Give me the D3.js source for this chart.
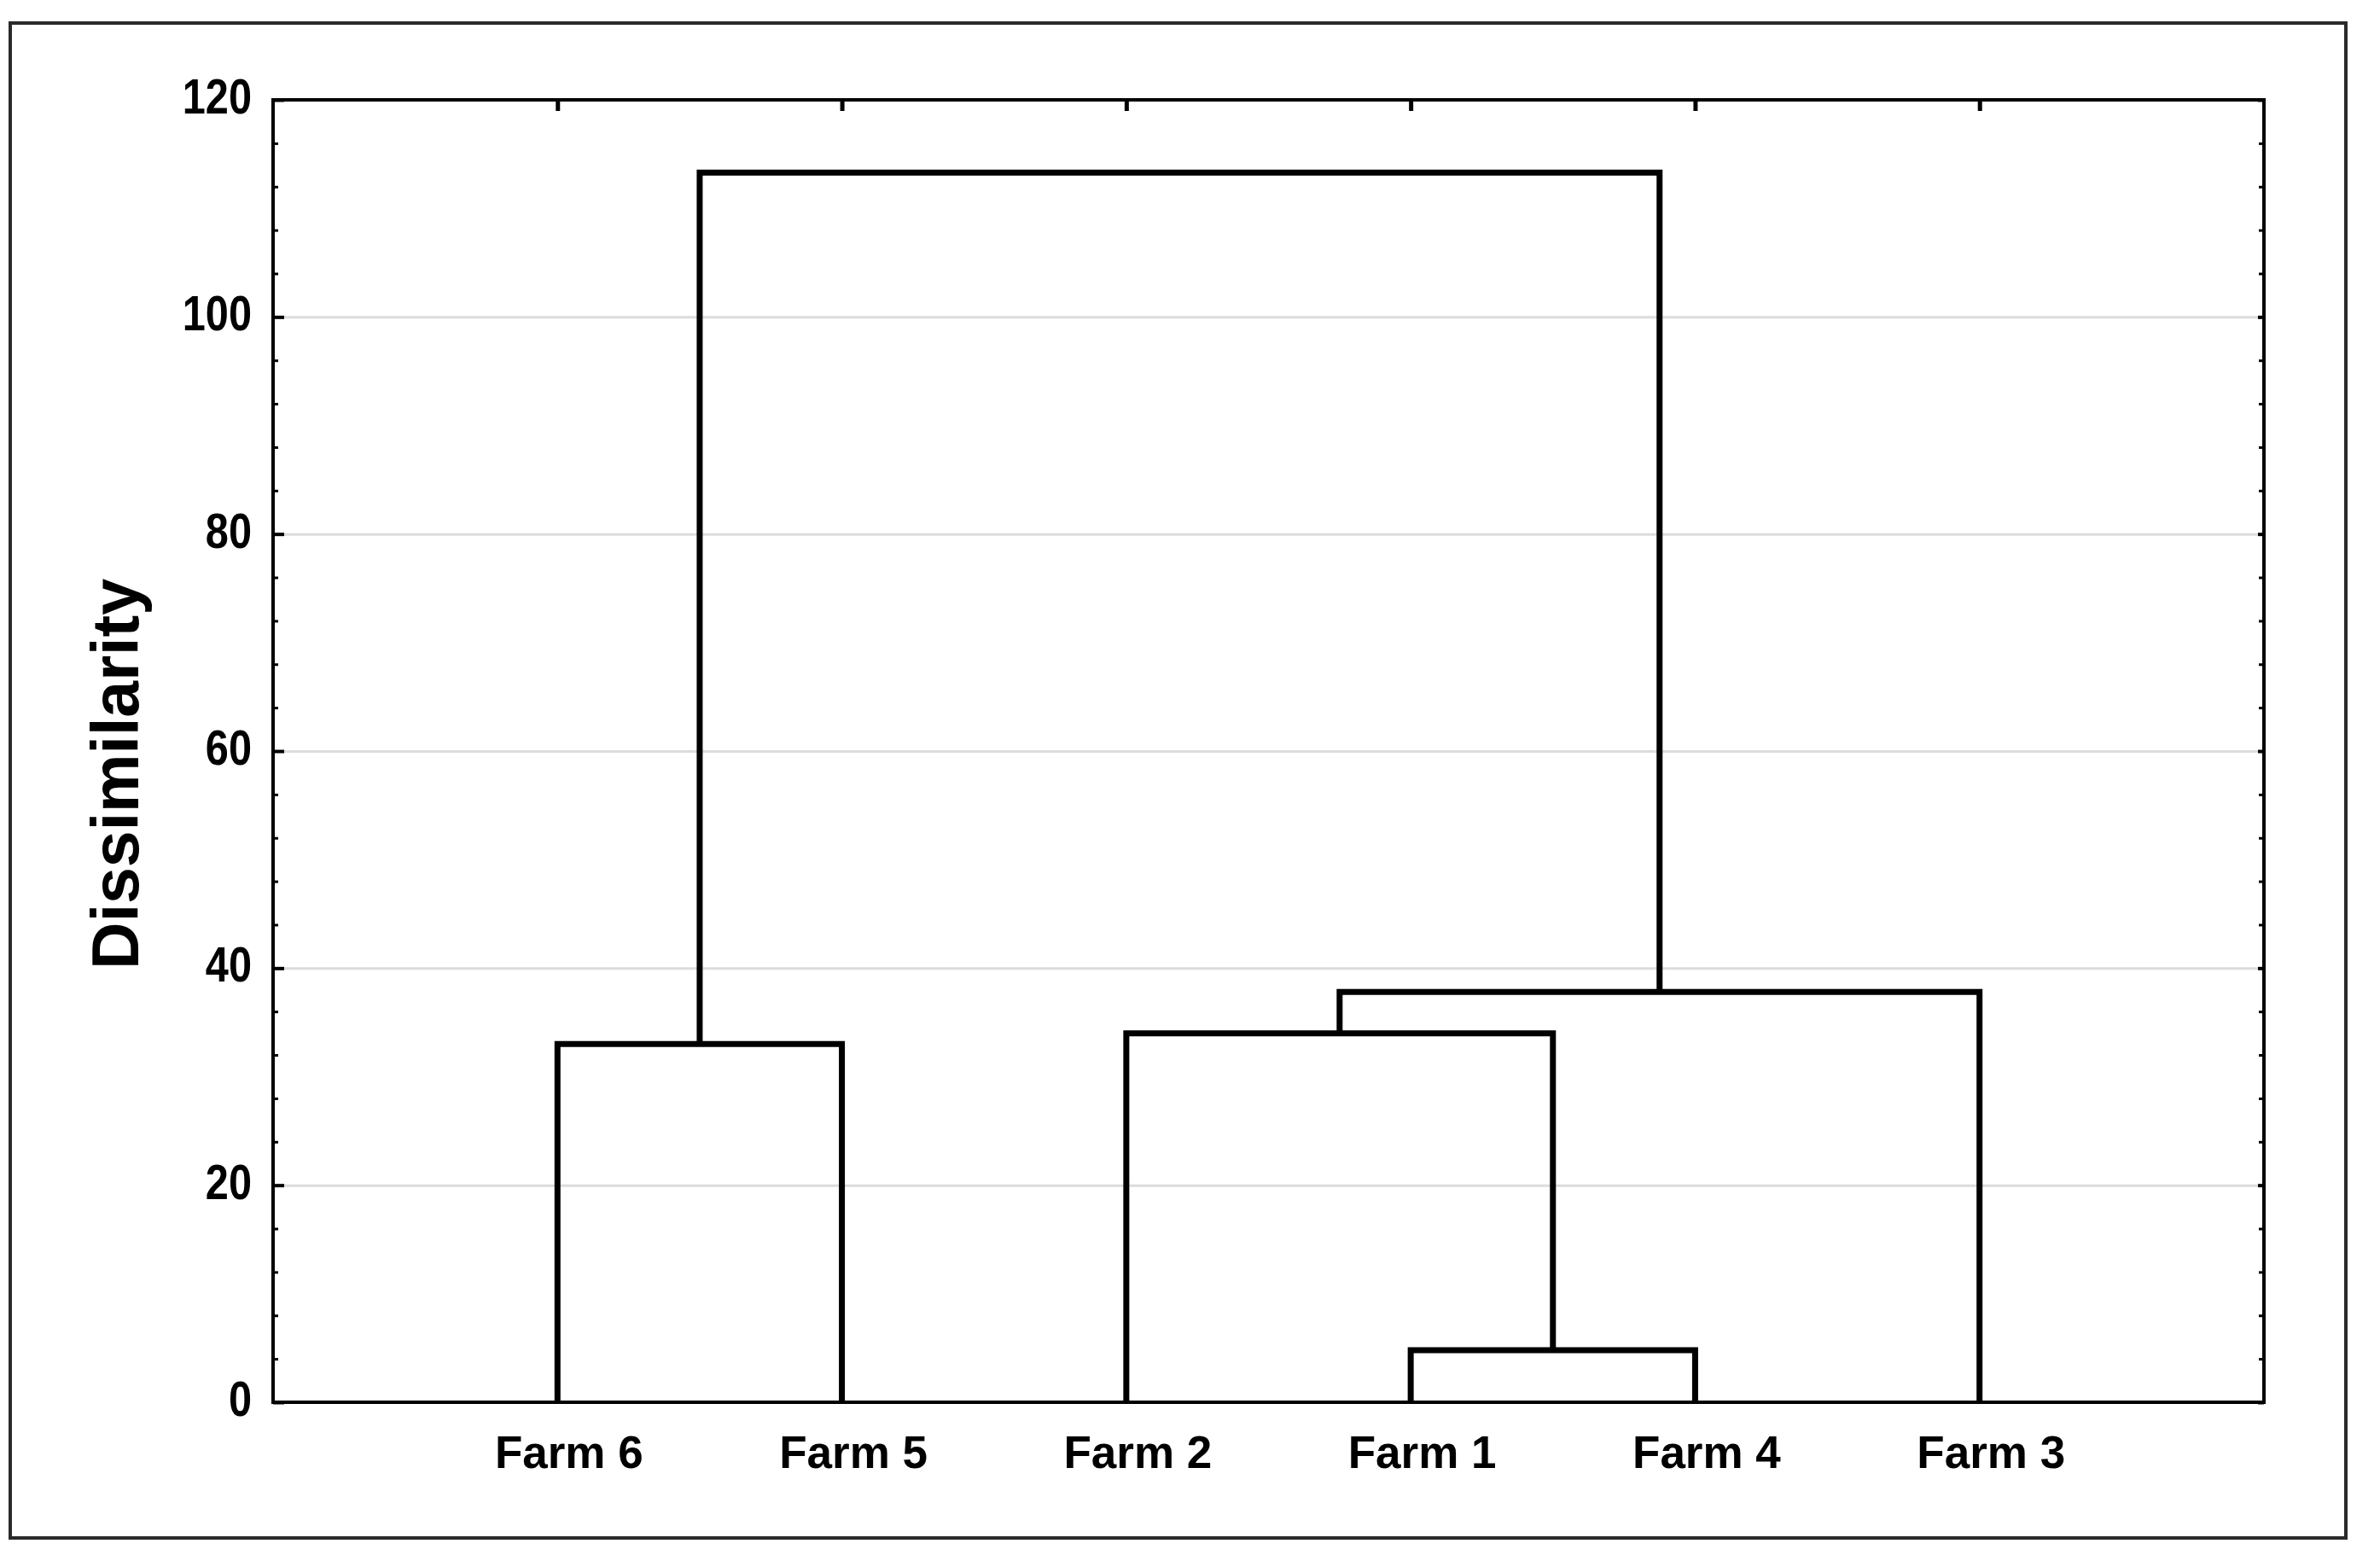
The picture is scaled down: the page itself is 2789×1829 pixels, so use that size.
<!DOCTYPE html>
<html>
<head>
<meta charset="utf-8">
<script src="https://cdn.jsdelivr.net/npm/d3@7"></script>
<style>
  html, body { margin: 0; padding: 0; background: #fff; }
  svg { display: block; }
  text { font-family: "Liberation Sans", Arial, sans-serif; font-weight: bold; fill: #000; }
</style>
</head>
<body>
<svg id="chart" width="2789" height="1829"></svg>
<script>
// ---- data ----
const leaves = ["Farm 6", "Farm 5", "Farm 2", "Farm 1", "Farm 4", "Farm 3"];
// linkage: node ids 0..5 are leaves, 6.. are merged clusters (in order)
const mergeLeft   = [3, 0, 2, 8, 7];
const mergeRight  = [4, 1, 6, 5, 9];
const mergeHeight = [4.8, 33, 34, 37.8, 113.3];
const yTicks = [0, 20, 40, 60, 80, 100, 120];
const yMinorStep = 4;
const yTitle = "Dissimilarity";

// ---- layout ----
const W = 2789, H = 1829;
const plot = { left: 320, top: 117, right: 2653, bottom: 1643 };
const svg = d3.select("#chart");

const x = d3.scaleLinear().domain([0, leaves.length + 1]).range([plot.left, plot.right]);
const y = d3.scaleLinear().domain([0, 120]).range([plot.bottom, plot.top]);

// outer frame
svg.append("rect")
  .attr("x", 12).attr("y", 27).attr("width", 2749 - 12).attr("height", 1802 - 27)
  .attr("fill", "none").attr("stroke", "#2a2a2a").attr("stroke-width", 4);

// gridlines
svg.append("g")
  .attr("transform", `translate(${plot.left},0)`)
  .call(d3.axisLeft(y).tickValues(yTicks.filter(v => v > 0 && v < 120))
    .tickSize(-(plot.right - plot.left)).tickFormat(""))
  .call(g => g.select(".domain").remove())
  .call(g => g.selectAll("line").attr("stroke", "#dcdcdc").attr("stroke-width", 3));

// node positions
const nodeX = leaves.map((d, i) => x(i + 1));
const nodeH = leaves.map(() => 0);
mergeLeft.forEach((l, k) => {
  const r = mergeRight[k];
  nodeX.push((nodeX[l] + nodeX[r]) / 2);
  nodeH.push(mergeHeight[k]);
});

// dendrogram links
svg.append("g")
  .selectAll("path")
  .data(mergeLeft.map((l, k) => ({ l, r: mergeRight[k], h: mergeHeight[k] })))
  .join("path")
  .attr("d", d => `M${nodeX[d.l]},${y(nodeH[d.l])}V${y(d.h)}H${nodeX[d.r]}V${y(nodeH[d.r])}`)
  .attr("fill", "none")
  .attr("stroke", "#000")
  .attr("stroke-width", 7)
  .attr("stroke-linejoin", "miter")
  .attr("stroke-linecap", "butt");

// minor ticks
const minorTicks = d3.range(0, 120 + 0.001, yMinorStep).filter(v => !yTicks.includes(v));
svg.append("g").attr("transform", `translate(${plot.left},0)`)
  .call(d3.axisLeft(y).tickValues(minorTicks).tickSize(-6).tickFormat(""))
  .call(g => g.select(".domain").remove())
  .call(g => g.selectAll("line").attr("stroke", "#000").attr("stroke-width", 3));
svg.append("g").attr("transform", `translate(${plot.right},0)`)
  .call(d3.axisRight(y).tickValues(minorTicks).tickSize(-6).tickFormat(""))
  .call(g => g.select(".domain").remove())
  .call(g => g.selectAll("line").attr("stroke", "#000").attr("stroke-width", 3));

// left axis (major) labels - condensed bold
svg.append("g").attr("transform", `translate(${plot.left},-3)`)
  .call(d3.axisLeft(y).tickValues(yTicks).tickSize(0).tickPadding(25).tickFormat(d3.format("d")))
  .call(g => g.select(".domain").remove())
  .call(g => g.selectAll("text")
    .attr("font-size", 58)
    .attr("font-family", "'Liberation Sans', Arial, sans-serif")
    .attr("font-weight", "bold").attr("fill", "#000")
    .attr("x", 0)
    .attr("transform", "translate(-25,0) scale(0.84,1)"));
svg.append("g").attr("transform", `translate(${plot.left},0)`)
  .call(d3.axisLeft(y).tickValues(yTicks).tickSize(-13).tickFormat(""))
  .call(g => g.select(".domain").remove())
  .call(g => g.selectAll("line").attr("stroke", "#000").attr("stroke-width", 4));
// right axis (major)
svg.append("g").attr("transform", `translate(${plot.right},0)`)
  .call(d3.axisRight(y).tickValues(yTicks).tickSize(-7).tickFormat(""))
  .call(g => g.select(".domain").remove())
  .call(g => g.selectAll("line").attr("stroke", "#000").attr("stroke-width", 4));

// top axis ticks at leaves
svg.append("g").attr("transform", `translate(0,${plot.top})`)
  .call(d3.axisTop(x).tickValues(leaves.map((d, i) => i + 1)).tickSize(-13).tickFormat(""))
  .call(g => g.select(".domain").remove())
  .call(g => g.selectAll("line").attr("stroke", "#000").attr("stroke-width", 5));

// bottom axis labels
svg.append("g").attr("transform", `translate(13,${plot.bottom})`)
  .call(d3.axisBottom(x).tickValues(leaves.map((d, i) => i + 1)).tickSize(0).tickPadding(39)
    .tickFormat(d => leaves[d - 1]))
  .call(g => g.select(".domain").remove())
  .call(g => g.selectAll("text").attr("font-size", 53).attr("font-family", "'Liberation Sans', Arial, sans-serif").attr("font-weight", "bold").attr("fill", "#000"));

// plot frame
svg.append("rect")
  .attr("x", plot.left).attr("y", plot.top)
  .attr("width", plot.right - plot.left).attr("height", plot.bottom - plot.top)
  .attr("fill", "none").attr("stroke", "#000").attr("stroke-width", 4);

// y title
svg.append("text")
  .attr("transform", `translate(162,907) rotate(-90)`)
  .attr("text-anchor", "middle")
  .attr("font-size", 77)
  .text(yTitle);
</script>
</body>
</html>
